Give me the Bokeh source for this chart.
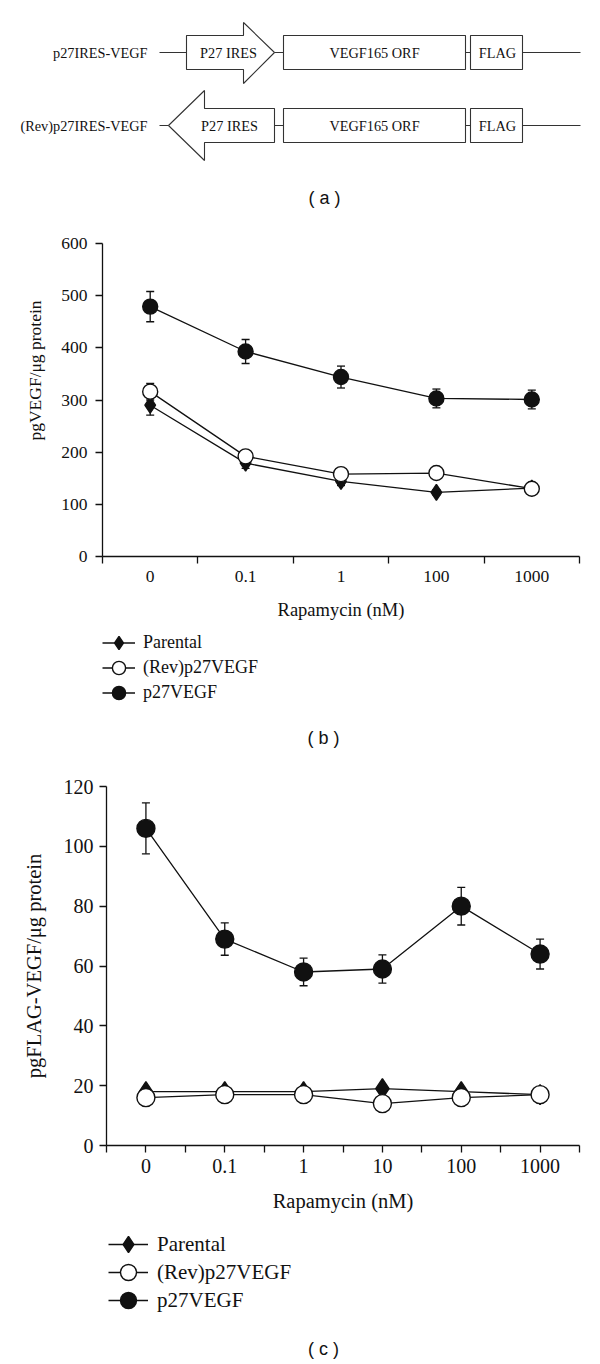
import math
from bokeh.plotting import figure
from bokeh.layouts import column, row
from bokeh.models import (Range1d, FixedTicker, Legend, LegendItem,
                          Whisker, TeeHead, ColumnDataSource)
from bokeh.core.properties import value
from bokeh.embed import file_html
from bokeh.resources import INLINE

# ---------------- data ----------------
constructs = ["p27IRES-VEGF", "(Rev)p27IRES-VEGF"]
elements = ["P27 IRES", "VEGF165 ORF", "FLAG"]

conc_b = ["0", "0.1", "1", "100", "1000"]
parental_b = [290, 179, 144, 123, 131]
parental_b_err = [19, 10, 8, 5, 5]
rev_b = [316, 192, 158, 160, 130]
rev_b_err = [16, 8, 6, 7, 8]
p27_b = [479, 393, 344, 303, 301]
p27_b_err = [29, 23, 21, 18, 18]

conc_c = ["0", "0.1", "1", "10", "100", "1000"]
parental_c = [18, 18, 18, 19, 18, 17]
parental_c_err = [1, 1, 1, 1, 1, 1]
rev_c = [16, 17, 17, 14, 16, 17]
rev_c_err = [1, 1, 1, 1, 1, 2]
p27_c = [106, 69, 58, 59, 80, 64]
p27_c_err = [8.5, 5.4, 4.6, 4.7, 6.3, 5.0]

series_names = ["Parental", "(Rev)p27VEGF", "p27VEGF"]
series_markers = ["diamond", "circle", "circle"]
series_fills = ["#111111", "white", "#111111"]
y_ticks_b = [0, 100, 200, 300, 400, 500, 600]
y_ticks_c = [0, 20, 40, 60, 80, 100, 120]
ylabel_b = "pgVEGF/\u03bcg protein"
ylabel_c = "pgFLAG-VEGF/\u03bcg protein"
xlabel = "Rapamycin (nM)"

SERIF = "Liberation Serif"
SANS = "Liberation Sans"
INK = "#111111"
W = 600
NAN = float("nan")


def unalign(p):
    try:
        p.frame_align = False
    except Exception:
        pass
    return p


def blank_fig(height, top, width=W):
    p = figure(width=width, height=height, x_range=Range1d(0, width),
               y_range=Range1d(top + height, top),
               output_backend="svg", toolbar_location=None, min_border=0)
    p.axis.visible = False
    p.grid.visible = False
    p.outline_line_color = None
    return unalign(p)


# ---------------- panel (a): construct diagram ----------------
fa = blank_fig(223, 0)
rows_y = [52, 125]
fa.text(x=[147, 147], y=rows_y, text=constructs, text_align="right", text_baseline="middle",
        text_font=value(SERIF), text_font_size="14.3px", text_color=INK)
fa.segment(x0=[159, 274, 465, 522, 159, 274, 465, 522],
           y0=[52, 52, 52, 52, 125, 125, 125, 125],
           x1=[186, 283, 470, 580, 168, 283, 470, 580],
           y1=[52, 52, 52, 52, 125, 125, 125, 125],
           line_color="#333333", line_width=1.1)
fa.patch(x=[186, 243, 243, 274, 243, 243, 186], y=[35, 35, 22, 52, 83, 69, 69],
         fill_color="white", line_color="#333333", line_width=1.1)
fa.patch(x=[168, 204, 204, 274, 274, 204, 204], y=[125, 90, 108, 108, 142, 142, 160],
         fill_color="white", line_color="#333333", line_width=1.1)
fa.quad(left=[283, 470, 283, 470], right=[465, 522, 465, 522],
        top=[35, 35, 108, 108], bottom=[69, 69, 142, 142],
        fill_color="white", line_color="#333333", line_width=1.1)
fa.text(x=[228, 374, 497, 229, 374, 497], y=[52, 52, 52, 125, 125, 125],
        text=elements + elements, text_align="center", text_baseline="middle",
        text_font=value(SERIF), text_font_size="14.3px", text_color=INK)
fa.text(x=[324], y=[197], text=["( a )"], text_align="center", text_baseline="middle",
        text_font=value(SANS), text_font_size="18px", text_color=INK)


# ---------------- helpers ----------------
def style_axes(p, cats, yticks, tick_font, title_font, ylabel, ystand, xstand, ylab_stand,
               xlab_stand, center_ticks):
    n = len(cats)
    centers = [i + 0.5 for i in range(n)]
    p.grid.visible = False
    p.outline_line_color = None
    p.xaxis.ticker = FixedTicker(ticks=centers, minor_ticks=list(range(n + 1)))
    p.xaxis.major_label_overrides = {c: lab for c, lab in zip(centers, cats)}
    p.xaxis.major_tick_out = 7 if center_ticks else 0
    p.xaxis.major_tick_in = 0
    p.xaxis.minor_tick_out = 7
    p.xaxis.minor_tick_in = 0
    p.yaxis.ticker = FixedTicker(ticks=yticks)
    p.yaxis.major_tick_out = 7
    p.yaxis.major_tick_in = 0
    p.yaxis.minor_tick_out = 0
    p.yaxis.minor_tick_in = 0
    for ax in (p.xaxis, p.yaxis):
        ax.axis_line_width = 1.3
        ax.axis_line_color = INK
        ax.major_tick_line_width = 1.3
        ax.minor_tick_line_width = 1.3
        ax.major_tick_line_color = INK
        ax.minor_tick_line_color = INK
        ax.major_label_text_font = SERIF
        ax.major_label_text_font_size = tick_font
        ax.major_label_text_color = INK
        ax.axis_label_text_font = SERIF
        ax.axis_label_text_font_size = title_font
        ax.axis_label_text_font_style = "normal"
        ax.axis_label_text_color = INK
    p.xaxis.axis_label = xlabel
    if ylabel:
        p.yaxis.axis_label = ylabel
        p.yaxis.axis_label_standoff = ylab_stand
    p.yaxis.major_label_standoff = ystand
    p.xaxis.major_label_standoff = xstand
    p.xaxis.axis_label_standoff = xlab_stand
    return centers


def add_series(p, xs, ys, errs, marker, fill, size, lw):
    src = ColumnDataSource(dict(x=xs, y=ys,
                                upper=[v + e for v, e in zip(ys, errs)],
                                lower=[v - e for v, e in zip(ys, errs)]))
    w = Whisker(base="x", upper="upper", lower="lower", source=src, level="underlay",
                line_width=lw, line_color=INK,
                upper_head=TeeHead(size=8, line_width=lw, line_color=INK),
                lower_head=TeeHead(size=8, line_width=lw, line_color=INK))
    p.add_layout(w)
    p.line("x", "y", source=src, line_color=INK, line_width=lw)
    p.scatter("x", "y", source=src, marker=marker, size=size, fill_color=fill,
              line_color=INK, line_width=1.4)


def legend_fig(height, top, x0, centers, font, gw, gh, standoff, tag, tag_x, tag_y):
    """Legend panel: one single-item Legend per series so the rows can sit closer
    than the glyph box height."""
    p = blank_fig(height, top)
    bottom = top + height
    for name, mk, fc, cy in zip(series_names, series_markers, series_fills, centers):
        key = ColumnDataSource(dict(x=[NAN], y=[NAN]))
        lr = p.line("x", "y", source=key, line_color=INK, line_width=1.3)
        sr = p.scatter("x", "y", source=key, marker=mk, fill_color=fc,
                       line_color=INK, line_width=1.4)
        lg = Legend(items=[LegendItem(label=name, renderers=[lr, sr])],
                    location=(x0, bottom - (cy + gh / 2.0)), orientation="vertical",
                    glyph_width=gw, glyph_height=gh, spacing=0, padding=0, margin=0,
                    label_standoff=standoff, label_height=10, label_text_font=SERIF,
                    label_text_font_size=font, label_text_color=INK,
                    border_line_color=None, background_fill_alpha=0)
        p.add_layout(lg)
    p.text(x=[tag_x], y=[tag_y], text=[tag], text_align="center", text_baseline="middle",
           text_font=value(SANS), text_font_size="18px", text_color=INK)
    return p


# ---------------- panel (b) ----------------
LAB_W = 50
fb_lab = blank_fig(405, 223, width=LAB_W)
fb_lab.text(x=[34], y=[370], text=[ylabel_b], angle=math.pi / 2, text_align="center",
            text_baseline="middle", text_font=value(SERIF), text_font_size="17.5px",
            text_color=INK)

fb = figure(width=W - LAB_W, height=405, x_range=Range1d(0, len(conc_b)), y_range=Range1d(0, 600),
            output_backend="svg", toolbar_location=None,
            min_border_left=102 - LAB_W, min_border_right=21, min_border_top=20,
            min_border_bottom=72)
unalign(fb)
xb = style_axes(fb, conc_b, y_ticks_b, "17.5px", "18.5px", None, 8, 7, 0, 15, False)
add_series(fb, xb, parental_b, parental_b_err, "diamond", INK, 16, 1.3)
add_series(fb, xb, rev_b, rev_b_err, "circle", "white", 15, 1.3)
add_series(fb, xb, p27_b, p27_b_err, "circle", INK, 15, 1.3)

fb_leg = legend_fig(132, 628, 102, [642, 667, 692], "18px", 33, 35, 8, "( b )", 323, 737)

# ---------------- panel (c) ----------------
fc = figure(width=W, height=464, x_range=Range1d(0, len(conc_c)), y_range=Range1d(0, 120),
            output_backend="svg", toolbar_location=None,
            min_border_left=106, min_border_right=21, min_border_top=26, min_border_bottom=79)
unalign(fc)
xc = style_axes(fc, conc_c, y_ticks_c, "20px", "20.5px", ylabel_c, 6, 6, 16, 14, True)
add_series(fc, xc, parental_c, parental_c_err, "diamond", INK, 20, 1.3)
add_series(fc, xc, rev_c, rev_c_err, "circle", "white", 18, 1.3)
add_series(fc, xc, p27_c, p27_c_err, "circle", INK, 18, 1.3)

fc_leg = legend_fig(140, 1224, 108, [1244, 1272, 1300], "21px", 40, 40, 9, "( c )", 323, 1348)

layout = column(fa, row(fb_lab, fb, spacing=0), fb_leg, fc, fc_leg, spacing=0)
open("out.html", "w").write(file_html(layout, INLINE))
